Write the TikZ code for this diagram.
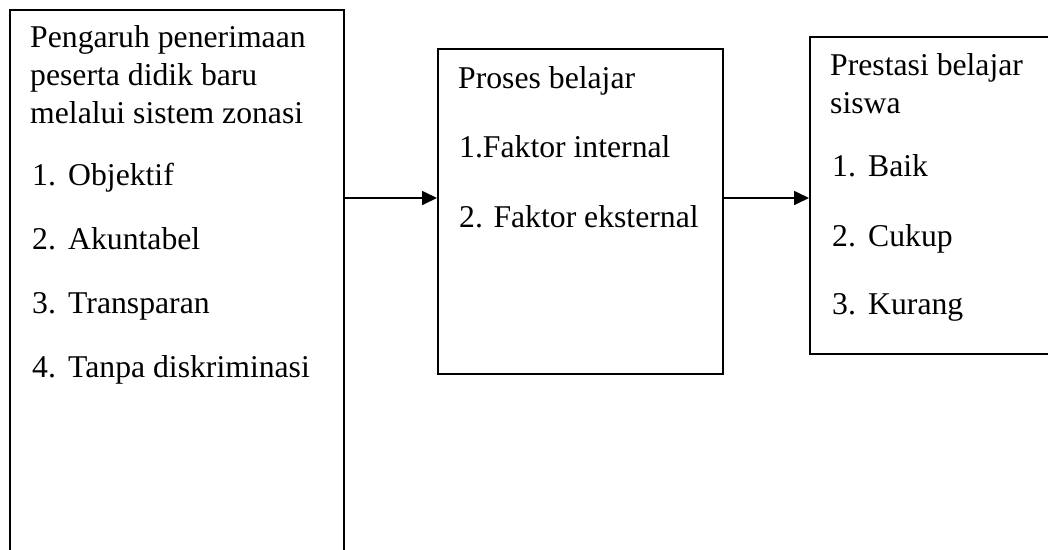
\documentclass[tikz,border=0pt]{standalone}
\usepackage{fontspec}
\setmainfont{Liberation Serif}
\usetikzlibrary{arrows.meta}
\begin{document}
\begin{tikzpicture}[x=1pt,y=-1pt,
  box/.style={draw=black,line width=1.7pt,inner sep=0pt,anchor=north west},
  txt/.style={anchor=base west,inner sep=0pt,font=\fontsize{31.7pt}{36pt}\selectfont},
  arr/.style={line width=1.7pt,-{Triangle[length=15pt,width=14pt]}}]
\useasboundingbox (0,0) rectangle (1048,549);
\clip (0,0) rectangle (1048,549);
% boxes
\node[box,minimum width=334pt,minimum height=560pt] (left) at (9,9) {};
\node[box,minimum width=285pt,minimum height=325pt] (mid) at (437,48) {};
\node[box,minimum width=260pt,minimum height=317pt] (right) at (809,36) {};
% left texts
\node[txt] (l1) at (30,47) {Pengaruh penerimaan};
\node[txt] (l2) at (30,85) {peserta didik baru};
\node[txt] (l3) at (30,123) {melalui sistem zonasi};
\node[txt] (n1) at (32,185) {1.};
\node[txt] (i1) at (68,185) {Objektif};
\node[txt] (n2) at (32,249) {2.};
\node[txt] (i2) at (68,249) {Akuntabel};
\node[txt] (n3) at (32,313) {3.};
\node[txt] (i3) at (68,313) {Transparan};
\node[txt] (n4) at (32,377) {4.};
\node[txt] (i4) at (68,377) {Tanpa diskriminasi};
% middle texts
\node[txt] (m1) at (458,88) {Proses belajar};
\node[txt] (m2) at (459,157) {1.Faktor internal};
\node[txt] (m3) at (459,227) {2. Faktor eksternal};
% right texts
\node[txt] (r1) at (830,75) {Prestasi belajar};
\node[txt] (r2) at (830,113) {siswa};
\node[txt] (rn1) at (832,176) {1.};
\node[txt] (ri1) at (868,176) {Baik};
\node[txt] (rn2) at (832,246) {2.};
\node[txt] (ri2) at (868,246) {Cukup};
\node[txt] (rn3) at (832,314) {3.};
\node[txt] (ri3) at (868,314) {Kurang};
% arrows
\coordinate (ay) at (0,198);
\draw[arr] (left.east |- ay) -- (mid.west |- ay);
\draw[arr] (mid.east |- ay) -- (right.west |- ay);
\end{tikzpicture}
\end{document}
